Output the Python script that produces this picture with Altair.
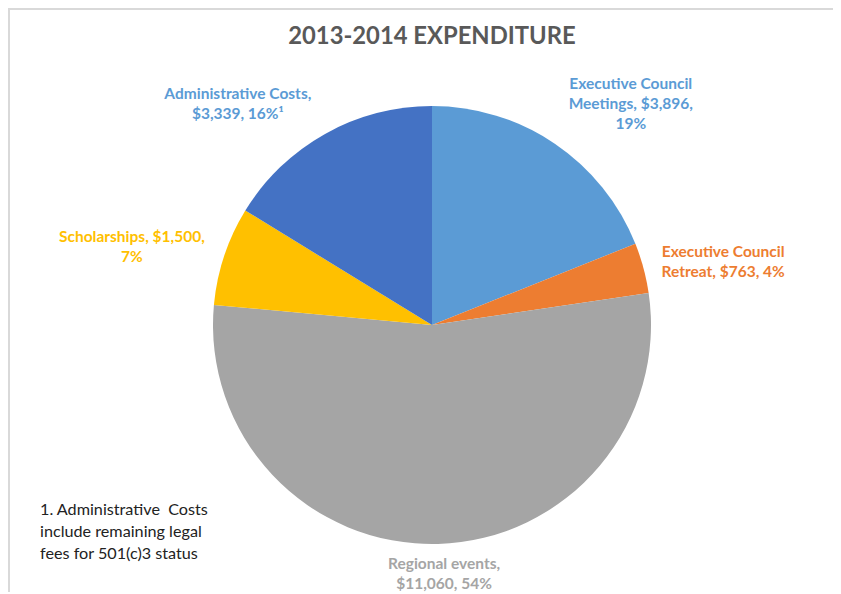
import math
import altair as alt
import pandas as pd

# ---- data ----
categories = ["Executive Council Meetings", "Executive Council Retreat",
              "Regional events", "Scholarships", "Administrative Costs"]
label_names = ["Executive Council\nMeetings", "Executive Council\nRetreat",
               "Regional events", "Scholarships", "Administrative Costs"]
values = [3896, 763, 11060, 1500, 3339]
footnote_marks = ["", "", "", "", "\u00b9"]
slice_colors = ["#5B9BD5", "#ED7D31", "#A5A5A5", "#FFC000", "#4472C4"]
label_colors = ["#5B9BD5", "#ED7D31", "#A5A5A5", "#FFC000", "#5B9BD5"]
title_text = "2013-2014 EXPENDITURE"
footnote_lines = ["1. Administrative\u00a0 Costs", "include remaining legal", "fees for 501(c)3 status"]

# ---- layout ----
W, H = 825, 584
CX, CY = 424, 317
R = 219
LABEL_LH = 20
# label placement relative to slice mid-angle: (angle offset deg, distance px)
label_layout = {
    "Executive Council Meetings": (7.9, 297, "{n}, ${v},\n{p}%{m}"),
    "Executive Council Retreat": (2.8, 298, "{n}, ${v}, {p}%{m}"),
    "Regional events": (-1.2, 249, "{n},\n${v}, {p}%{m}"),
    "Scholarships": (-3.9, 310, "{n}, ${v},\n{p}%{m}"),
    "Administrative Costs": (-12.1, 294, "{n},\n${v}, {p}%{m}"),
}

total = sum(values)
rows = []
cum = 0.0
for i, (c, n, v, m, lc) in enumerate(zip(categories, label_names, values, footnote_marks, label_colors)):
    start = cum / total * 360
    cum += v
    end = cum / total * 360
    mid = (start + end) / 2
    off, dist, fmt = label_layout[c]
    a = math.radians(mid + off)
    pct = round(v / total * 100)
    text = fmt.format(n=n, v=f"{v:,}", p=pct, m=m)
    nlines = text.count("\n") + 1
    lx = CX + dist * math.sin(a)
    ly = CY - dist * math.cos(a) - (nlines - 1) * LABEL_LH / 2
    rows.append({"category": c, "value": v, "order": i, "label": text,
                 "lx": lx, "ly": ly, "lcolor": lc})
df = pd.DataFrame(rows)

one = pd.DataFrame({"v": [1]})
shadows = [
    alt.Chart(one).mark_arc(radius=R + k, color="#000000", opacity=0.045).encode(
        theta=alt.Theta("v:Q"), x=alt.value(CX - 1), y=alt.value(CY + 1))
    for k in (1.5, 3, 5)
]

pie = alt.Chart(df).mark_arc(radius=R).encode(
    theta=alt.Theta("value:Q", stack=True),
    order=alt.Order("order:Q"),
    color=alt.Color("category:N", scale=alt.Scale(domain=categories, range=slice_colors), legend=None),
    x=alt.value(CX),
    y=alt.value(CY),
)

labels = alt.Chart(df).mark_text(
    font="Lato", fontWeight="bold", fontSize=15.5, lineHeight=LABEL_LH,
    align="center", baseline="middle", lineBreak="\n",
).encode(
    x=alt.X("lx:Q", scale=None),
    y=alt.Y("ly:Q", scale=None),
    text="label:N",
    color=alt.Color("lcolor:N", scale=None),
)

title = alt.Chart(pd.DataFrame({"t": [title_text]})).mark_text(
    font="Lato", fontWeight="bold", fontSize=23.8, color="#595959",
    align="center", baseline="middle",
).encode(x=alt.value(CX), y=alt.value(29), text="t:N")

note = alt.Chart(pd.DataFrame({"t": ["\n".join(footnote_lines)]})).mark_text(
    font="Lato", fontSize=16.2, lineHeight=22, color="#222222",
    align="left", baseline="middle", lineBreak="\n",
).encode(x=alt.value(32), y=alt.value(502), text="t:N")

top_border = alt.Chart(one).mark_rule(color="#D9D9D9", strokeWidth=2).encode(
    x=alt.value(0), x2=alt.value(W), y=alt.value(1))
left_border = alt.Chart(one).mark_rule(color="#D9D9D9", strokeWidth=2).encode(
    x=alt.value(1), y=alt.value(0), y2=alt.value(H))

chart = alt.layer(top_border, left_border, *shadows, pie, labels, title, note).properties(
    width=W, height=H, padding=0, autosize=alt.AutoSizeParams(type="none"),
).configure_view(stroke=None)

chart.save("out.html", embed_options={"renderer": "svg", "actions": False})
